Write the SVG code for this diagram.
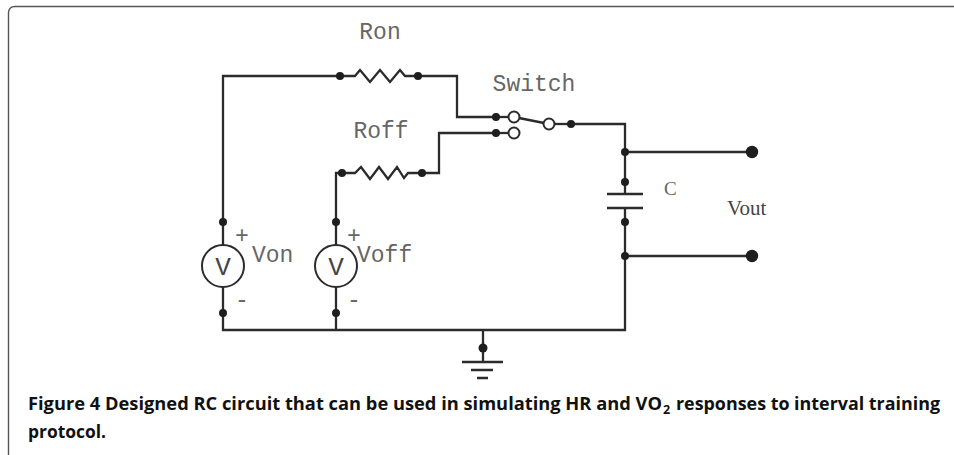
<svg xmlns="http://www.w3.org/2000/svg" width="954" height="455" viewBox="0 0 954 455">
<defs>
<style>
.w{fill:none;stroke:#2b2b2b;stroke-width:2.3;stroke-linejoin:miter}
.d{fill:#1e1e1e}
.o{fill:#fff;stroke:#2b2b2b;stroke-width:2}
.lbl{font-family:"Liberation Mono","Courier New",monospace;font-size:23px;fill:#666}
.ser{font-family:"Liberation Serif","Times New Roman",serif;fill:#444}
.cap{font-family:"Open Sans","Liberation Sans",sans-serif;font-weight:bold;font-size:18px;fill:#111}
.sub{font-family:"Open Sans","Liberation Sans",sans-serif;font-weight:bold;font-size:12.5px;fill:#111}
</style>
</defs>
<rect width="954" height="455" fill="#fff"/>
<path d="M8.5,455 V13 Q8.5,6.5 15,6.5 H954" fill="none" stroke="#555" stroke-width="1.4"/>
<g id="connectors">
<path class="w" d="M340,76 H223 V222"/>
<path class="w" d="M223,222 V245 M223,287 V313"/>
<path class="w" d="M418,76 H457 V117 H496"/>
<path class="w" d="M496,133 H439 V173 H422"/>
<path class="w" d="M342,173 H336 V222"/>
<path class="w" d="M336,222 V245 M336,287 V313"/>
<path class="w" d="M223,313 V330 H625 V256 M336,313 V330"/>
<path class="w" d="M571,124 H625 V182 M625,152 H752 M625,222 V256 H752"/>
<path class="w" d="M483,330 V362"/>
</g>
<g id="Ron">
<path class="w" d="M340,76 H355 L360,70 L370,82 L380,70 L390,82 L400,70 L405,76 H418"/>
<circle class="d" cx="340" cy="76" r="4"/>
<circle class="d" cx="418" cy="76" r="4"/>
<text class="lbl" x="380" y="39" text-anchor="middle">Ron</text>
</g>
<g id="Roff">
<path class="w" d="M342,173 H355 L361,167 L370,179 L379,167 L388,179 L397,167 L404,178 L408,173 H422"/>
<circle class="d" cx="342" cy="173" r="4"/>
<circle class="d" cx="422" cy="173" r="4"/>
<text class="lbl" x="381" y="138" text-anchor="middle">Roff</text>
</g>
<g id="Switch">
<line class="w" x1="514" y1="117" x2="549" y2="124"/>
<line class="w" x1="549" y1="124" x2="571" y2="124"/>
<line class="w" x1="496" y1="117" x2="514" y2="117"/>
<line class="w" x1="496" y1="133" x2="514" y2="133"/>
<circle class="d" cx="496" cy="117" r="4"/>
<circle class="d" cx="496" cy="133" r="4"/>
<circle class="o" cx="514" cy="117" r="5.5"/>
<circle class="o" cx="514" cy="133" r="5.5"/>
<circle class="o" cx="549" cy="124" r="5.5"/>
<circle class="d" cx="571" cy="124" r="4"/>
<text class="lbl" x="534" y="91" text-anchor="middle">Switch</text>
</g>
<g id="C">
<path class="w" d="M625,182 V194 M607,194 H643 M607,208 H643 M625,208 V222"/>
<circle class="d" cx="625" cy="152" r="4"/>
<circle class="d" cx="625" cy="182" r="4"/>
<circle class="d" cx="625" cy="222" r="4"/>
<circle class="d" cx="625" cy="256" r="4"/>
<text class="ser" x="664" y="195" style="font-size:19px;fill:#666">C</text>
</g>
<g id="Vout">
<circle class="d" cx="752" cy="152" r="6.2"/>
<circle class="d" cx="752" cy="256" r="6.2"/>
<text class="ser" x="727" y="215" style="font-size:21px">Vout</text>
</g>
<g id="Von">
<circle class="d" cx="223" cy="222" r="4"/>
<circle class="d" cx="223" cy="313" r="4"/>
<circle class="o" cx="223" cy="266" r="21"/>
<text class="lbl" x="223" y="275" text-anchor="middle" style="font-size:26px;fill:#444">V</text>
<text class="lbl" x="242" y="243" text-anchor="middle">+</text>
<text class="lbl" x="242" y="307" text-anchor="middle">-</text>
<text class="lbl" x="252" y="262">Von</text>
</g>
<g id="Voff">
<circle class="d" cx="336" cy="222" r="4"/>
<circle class="d" cx="336" cy="313" r="4"/>
<circle class="o" cx="336" cy="266" r="21"/>
<text class="lbl" x="336" y="275" text-anchor="middle" style="font-size:26px;fill:#444">V</text>
<text class="lbl" x="354" y="243" text-anchor="middle">+</text>
<text class="lbl" x="354" y="307" text-anchor="middle">-</text>
<text class="lbl" x="357" y="262">Voff</text>
</g>
<g id="ground">
<circle class="d" cx="483" cy="348" r="4.5"/>
<path class="w" d="M462,362 H503 M471,370 H493 M477,378 H488"/>
</g>
<g id="caption">
<text class="cap" x="28" y="410" textLength="634" lengthAdjust="spacingAndGlyphs">Figure 4 Designed RC circuit that can be used in simulating HR and VO</text>
<text class="sub" x="663" y="414">2</text>
<text class="cap" x="676" y="410" textLength="264" lengthAdjust="spacingAndGlyphs">responses to interval training</text>
<text class="cap" x="28" y="438" textLength="78" lengthAdjust="spacingAndGlyphs">protocol.</text>
</g>
</svg>
